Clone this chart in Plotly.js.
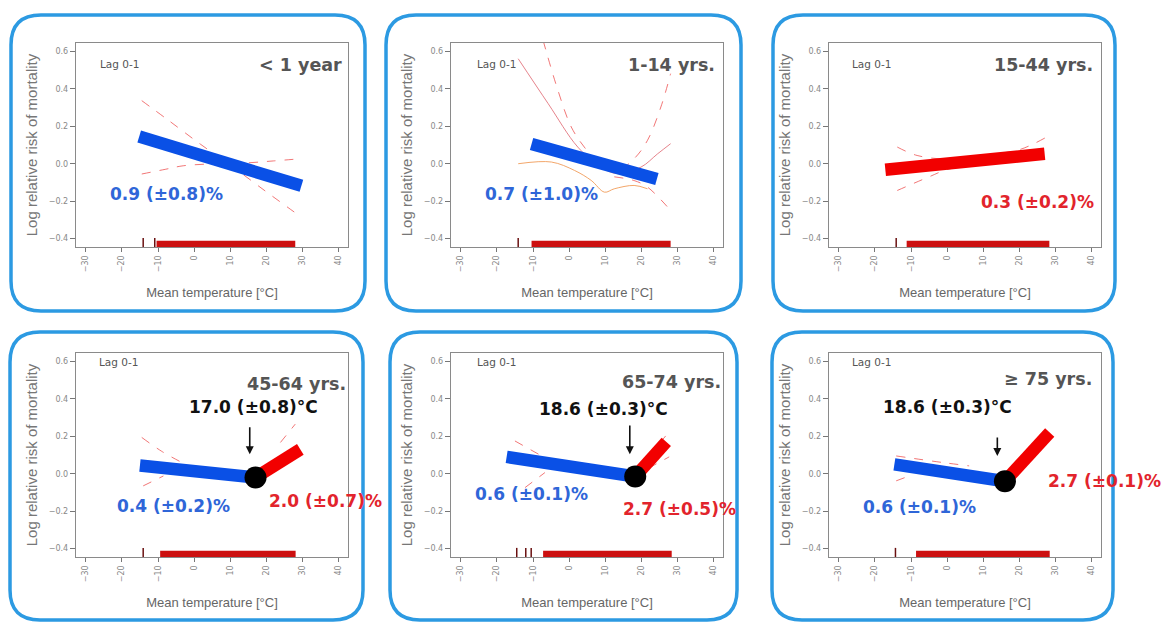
<!DOCTYPE html>
<html>
<head>
<meta charset="utf-8">
<script src="https://cdn.plot.ly/plotly-3.0.1.min.js"></script>
<style>html,body{margin:0;padding:0;background:#fff;}#chart{width:1166px;height:624px;}</style>
</head>
<body>
<div id="chart"></div>
<script>
// ---------- DATA ----------
const ageGroups = ['< 1 year', '1-14 yrs.', '15-44 yrs.', '45-64 yrs.', '65-74 yrs.', '\u2265 75 yrs.'];
const lagLabel = 'Lag 0-1';
const xTickVals = [-30, -20, -10, 0, 10, 20, 30, 40];
const yTickVals = [-0.4, -0.2, 0.0, 0.2, 0.4, 0.6];

// cold-side (blue) fitted slope segments
const coldX = [[-15.2, 29.7], [-10.4, 24.3], null, [-15, 17.0], [-17.3, 18.3], [-14.6, 16.0]];
const coldY = [[0.145, -0.118], [0.105, -0.082], null, [0.044, -0.02], [0.09, -0.015], [0.05, -0.04]];
// heat-side (red) fitted slope segments
const hotX = [null, null, [-17.1, 27.0], [17.0, 29.4], [18.3, 26.9], [16.0, 28.4]];
const hotY = [null, null, [-0.032, 0.053], [-0.02, 0.13], [-0.015, 0.17], [-0.04, 0.22]];
// breakpoints (threshold temperatures)
const breakX = [null, null, null, 17.0, 18.3, 16.0];
const breakY = [null, null, null, -0.02, -0.015, -0.04];

// thin confidence curves, per panel
const ciX = [
  [[-14.5, -7.6, 1.7, 10.9, 20.2, 28.5], [-14.5, -8, -3, 6.2, 15, 22, 28.5]],
  [[-14.1, -5.8, 2.4, 8.8, 13.4, 19.9, 24.5, 28.1],
   [-7.2, -3.1, 0.6, 4.2, 8.8, 13.4, 18.0, 21.7, 25.4, 28.1],
   [-14.1, -4.9, 1.5, 6.1, 9.8, 12.5, 18, 21.7],
   [12.5, 18, 21.7, 28.1]],
  [[-13.8, -8.3, 0, 10, 20, 27.5], [-13.8, -5, 0.2, 10, 20, 27.5]],
  [[-14.5, -9, -3.4], [-14.1, -8.5], [23.9, 28.0]],
  [[-15, -7.6], [-12.2, -6.7], [22, 27.7], [22, 27.7]],
  [[-14.1, -1.3, 6.1], [-14.1, -10.5]]
];
const ciY = [
  [[0.337, 0.239, 0.105, -0.020, -0.153, -0.269], [-0.055, -0.03, -0.011, 0.0, 0.005, 0.015, 0.025]],
  [[0.561, 0.321, 0.089, -0.018, -0.053, -0.018, 0.053, 0.107],
   [0.659, 0.392, 0.196, 0.089, -0.009, -0.036, 0.027, 0.125, 0.303, 0.481],
   [0.0, 0.009, -0.036, -0.089, -0.152, -0.134, -0.116, -0.134],
   [-0.07, -0.09, -0.125, -0.25]],
  [[0.089, 0.044, 0.025, 0.045, 0.075, 0.142], [-0.143, -0.07, -0.03, 0.0, 0.02, 0.035]],
  [[0.194, 0.12, 0.06], [-0.065, -0.012], [0.167, 0.265]],
  [[0.175, 0.095], [-0.074, 0.006], [0.09, 0.225], [0.03, 0.09]],
  [[0.095, 0.06, 0.042], [-0.038, -0.012]]
];
const ciDash = [
  ['dash', 'dash'],
  ['solid', 'dash', 'solid', 'dash'],
  ['dash', 'dash'],
  ['dash', 'dash', 'dash'],
  ['dash', 'dash', 'dash', 'dash'],
  ['dash', 'dash']
];

// rug of observed daily mean temperatures
const rugStart = [-10.4, -10.4, -11.2, -9.4, -7.2, -8.6];
const rugEnd = [28.0, 28.1, 28.3, 28.1, 28.4, 28.4];
const rugSparse = [[-14.1, -10.9], [-14.1], [-14.1], [-14.1], [-14.5, -12.0, -10.5], [-14.3]];

// slope / threshold labels
const coldLabels = ['0.9 (\u00b10.8)%', '0.7 (\u00b11.0)%', null, '0.4 (\u00b10.2)%', '0.6 (\u00b10.1)%', '0.6 (\u00b10.1)%'];
const hotLabels = [null, null, '0.3 (\u00b10.2)%', '2.0 (\u00b10.7)%', '2.7 (\u00b10.5)%', '2.7 (\u00b10.1)%'];
const thresholdLabels = [null, null, null, '17.0 (\u00b10.8)\u00b0C', '18.6 (\u00b10.3)\u00b0C', '18.6 (\u00b10.3)\u00b0C'];

// ---------- LAYOUT ----------
const W = 1166, H = 624;
const colPx = [[76, 348], [451, 723], [829, 1101]];
const rowPx = [[43, 247], [353, 557]];
const boxPx = [[11, 15, 365, 311], [386, 15, 741, 311], [773, 15, 1115, 311],
               [10, 332, 363, 620], [390, 332, 737, 620], [772, 332, 1113, 620]];
const xRange = [-32.7, 42.6];
const yRange = [-0.445, 0.645];
const rugLevel = -0.43;

// annotation placement (data coordinates of each panel) : [x, y, xanchor]
const coldLabPos = [[-7.6, -0.16, 'center'], [-7.7, -0.16, 'center'], null, [-5.8, -0.172, 'center'], [-10.4, -0.11, 'center'], [-7.7, -0.18, 'center']];
const hotLabPos = [null, null, [25.1, -0.205, 'center'], [36.4, -0.145, 'center'], [30.5, -0.19, 'center'], [27.4, -0.04, 'left']];
const thrLabPos = [null, null, null, [16.4, 0.356], [9.4, 0.345], [0.0, 0.356]];
const arrowPos = [null, null, null, [15.4, 0.256, 0.104], [16.8, 0.265, 0.104], [13.9, 0.202, 0.095]];
const titlePos = [[41.4, 0.527], [41.0, 0.527], [40.8, 0.527], [42.5, 0.479], [42.5, 0.488], [40.7, 0.505]];
const lagPos = [[-26.7, 0.535], [-26.1, 0.535], [-27, 0.535], [-27, 0.595], [-26.1, 0.595], [-27, 0.595]];

const BLUE = '#0a50e6', RED = '#f20000', BLUE_TXT = '#2f66d8', RED_TXT = '#e2242c';
const boldFont = 'DejaVu Sans, Arial, sans-serif';

function roundRect(b, r) {
  const [x0, y0, x1, y1] = b;
  const X = v => (v / W).toFixed(5), Y = v => (1 - v / H).toFixed(5);
  return `M${X(x0 + r)},${Y(y0)} L${X(x1 - r)},${Y(y0)} Q${X(x1)},${Y(y0)} ${X(x1)},${Y(y0 + r)} ` +
         `L${X(x1)},${Y(y1 - r)} Q${X(x1)},${Y(y1)} ${X(x1 - r)},${Y(y1)} L${X(x0 + r)},${Y(y1)} ` +
         `Q${X(x0)},${Y(y1)} ${X(x0)},${Y(y1 - r)} L${X(x0)},${Y(y0 + r)} Q${X(x0)},${Y(y0)} ${X(x0 + r)},${Y(y0)} Z`;
}

const traces = [];
const layout = {
  width: W, height: H,
  margin: {l: 0, r: 0, t: 0, b: 0},
  paper_bgcolor: '#ffffff', plot_bgcolor: '#ffffff',
  showlegend: false,
  font: {family: 'Liberation Sans, Arial, sans-serif', color: '#666'},
  shapes: [], annotations: []
};

for (let i = 0; i < 6; i++) {
  const col = i % 3, row = Math.floor(i / 3);
  const xa = i === 0 ? 'x' : 'x' + (i + 1);
  const ya = i === 0 ? 'y' : 'y' + (i + 1);
  const xKey = i === 0 ? 'xaxis' : 'xaxis' + (i + 1);
  const yKey = i === 0 ? 'yaxis' : 'yaxis' + (i + 1);

  layout[xKey] = {
    domain: [colPx[col][0] / W, colPx[col][1] / W],
    anchor: ya, range: xRange, tickvals: xTickVals,
    ticks: 'outside', ticklen: 4, tickwidth: 1, tickcolor: '#777',
    tickangle: -90, tickfont: {size: 8, color: '#888', family: 'DejaVu Sans, sans-serif'},
    showline: true, mirror: true, linecolor: '#8a8a8a', linewidth: 1.2,
    showgrid: false, zeroline: false, fixedrange: true,
    title: {text: 'Mean temperature [\u00b0C]', font: {size: 13, color: '#666'}, standoff: 16}
  };
  layout[yKey] = {
    domain: [1 - rowPx[row][1] / H, 1 - rowPx[row][0] / H],
    anchor: xa, range: yRange, tickvals: yTickVals, tickformat: '.1f',
    ticks: 'outside', ticklen: 5, tickwidth: 1, tickcolor: '#777',
    tickfont: {size: 8, color: '#888', family: 'DejaVu Sans, sans-serif'},
    showline: true, mirror: true, linecolor: '#8a8a8a', linewidth: 1.2,
    showgrid: false, zeroline: false, fixedrange: true,
    title: {text: 'Log relative risk of mortality', font: {size: 15, color: '#777'}, standoff: 7}
  };

  // confidence curves
  ciX[i].forEach((xs, k) => {
    const solid = ciDash[i][k] === 'solid';
    traces.push({
      type: 'scatter', mode: 'lines', x: xs, y: ciY[i][k], xaxis: xa, yaxis: ya,
      line: {color: solid ? (k === 2 ? 'rgba(240,150,80,0.85)' : 'rgba(220,90,100,0.75)') : 'rgba(235,60,60,0.7)',
             width: 1, dash: solid ? 'solid' : 'dash', shape: 'spline'},
      hoverinfo: 'skip'
    });
  });

  // rug
  traces.push({
    type: 'scatter', mode: 'lines', x: [rugStart[i], rugEnd[i]], y: [rugLevel, rugLevel],
    xaxis: xa, yaxis: ya, line: {color: '#cc1010', width: 7}, hoverinfo: 'skip'
  });
  traces.push({
    type: 'scatter', mode: 'markers', x: rugSparse[i], y: rugSparse[i].map(() => rugLevel),
    xaxis: xa, yaxis: ya,
    marker: {symbol: 'line-ns-open', size: 9, color: '#6a1010', line: {color: '#6a1010', width: 1.5}}, hoverinfo: 'skip'
  });

  // slope segments
  if (coldX[i]) traces.push({
    type: 'scatter', mode: 'lines', x: coldX[i], y: coldY[i], xaxis: xa, yaxis: ya,
    line: {color: BLUE, width: 12.5}, hoverinfo: 'skip'
  });
  if (hotX[i]) traces.push({
    type: 'scatter', mode: 'lines', x: hotX[i], y: hotY[i], xaxis: xa, yaxis: ya,
    line: {color: RED, width: 12.5}, hoverinfo: 'skip'
  });
  if (breakX[i] !== null) traces.push({
    type: 'scatter', mode: 'markers', x: [breakX[i]], y: [breakY[i]], xaxis: xa, yaxis: ya,
    marker: {color: '#000', size: 22}, hoverinfo: 'skip'
  });

  // panel frame
  layout.shapes.push({type: 'path', xref: 'paper', yref: 'paper', path: roundRect(boxPx[i], 30),
    line: {color: '#2c9ae2', width: 3.5}, fillcolor: 'rgba(0,0,0,0)', layer: 'above'});

  // texts
  layout.annotations.push({xref: xa, yref: ya, x: titlePos[i][0], y: titlePos[i][1], text: '<b>' + ageGroups[i] + '</b>',
    showarrow: false, xanchor: 'right', yanchor: 'middle', font: {family: boldFont, size: 17.5, color: '#555'}});
  layout.annotations.push({xref: xa, yref: ya, x: lagPos[i][0], y: lagPos[i][1], text: lagLabel,
    showarrow: false, xanchor: 'left', yanchor: 'middle', font: {family: 'DejaVu Sans, sans-serif', size: 10.5, color: '#555'}});
  if (coldLabels[i]) layout.annotations.push({xref: xa, yref: ya, x: coldLabPos[i][0], y: coldLabPos[i][1],
    text: '<b>' + coldLabels[i] + '</b>', showarrow: false, xanchor: coldLabPos[i][2], yanchor: 'middle',
    font: {family: boldFont, size: 17, color: BLUE_TXT}});
  if (hotLabels[i]) layout.annotations.push({xref: xa, yref: ya, x: hotLabPos[i][0], y: hotLabPos[i][1],
    text: '<b>' + hotLabels[i] + '</b>', showarrow: false, xanchor: hotLabPos[i][2], yanchor: 'middle',
    font: {family: boldFont, size: 17, color: RED_TXT}});
  if (thresholdLabels[i]) {
    layout.annotations.push({xref: xa, yref: ya, x: thrLabPos[i][0], y: thrLabPos[i][1],
      text: '<b>' + thresholdLabels[i] + '</b>', showarrow: false, xanchor: 'center', yanchor: 'middle',
      font: {family: boldFont, size: 17, color: '#111'}});
    const a = arrowPos[i];
    layout.annotations.push({xref: xa, yref: ya, x: a[0], y: a[2], ax: a[0], ay: a[1], axref: xa, ayref: ya,
      text: '', showarrow: true, arrowhead: 2, arrowsize: 1, arrowwidth: 1.6, arrowcolor: '#111', standoff: 0});
  }
}

Plotly.newPlot('chart', traces, layout, {displayModeBar: false, staticPlot: true});
</script>
</body>
</html>
